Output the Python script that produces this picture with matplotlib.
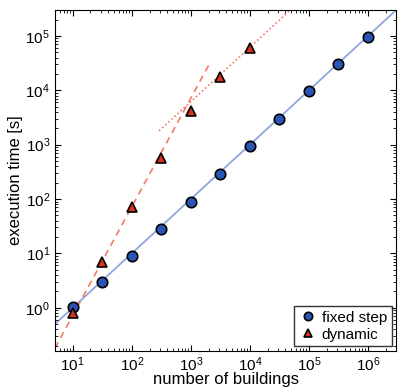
import numpy as np
import matplotlib
matplotlib.use("Agg")
import matplotlib.pyplot as plt

plt.rcParams["font.family"] = ["Liberation Sans", "DejaVu Sans"]

# number of buildings for each run
n_fixed = [10, 31.6, 100, 316, 1000, 3162, 10000, 31623, 100000, 316228, 1000000]
n_dynamic = [10, 31.6, 100, 316, 1000, 3162, 10000]

# execution time [s]
t_fixed = [1.05, 3.0, 9.0, 28, 90, 290, 950, 3000, 9600, 30000, 97000]
t_dynamic = [0.8, 7.0, 72, 580, 4100, 17500, 60000]

# power-law fits: t = c * n**p
fit_fixed = (0.1, 1.0)
fit_dyn_small = (0.0072, 2.0)
fit_dyn_large = (6.2, 1.0)

xlim = (5, 3e6)
ylim = (0.16, 3e5)

fig = plt.figure(figsize=(4.01, 3.87), dpi=100)
ax = fig.add_axes([0.137, 0.093, 0.851, 0.881])

n = np.logspace(np.log10(xlim[0]), np.log10(xlim[1]), 200)
ax.plot(n, fit_fixed[0] * n ** fit_fixed[1], color="#8fa6dc", lw=1.3, zorder=1)

n1 = np.logspace(np.log10(5), np.log10(2100), 100)
ax.plot(n1, fit_dyn_small[0] * n1 ** fit_dyn_small[1], color="#f47a6a",
        lw=1.2, ls=(0, (4, 3)), zorder=1)

n2 = np.logspace(np.log10(290), np.log10(1e5), 100)
ax.plot(n2, fit_dyn_large[0] * n2 ** fit_dyn_large[1], color="#f47a6a",
        lw=1.2, ls=(0, (1, 1.5)), zorder=1)

ax.plot(n_fixed, t_fixed, "o", ms=7.5, mfc="#2b55b5", mec="black", mew=1.2,
        label="fixed step", zorder=3)
ax.plot(n_dynamic, t_dynamic, "^", ms=7.5, mfc="#d8321a", mec="black", mew=1.2,
        label="dynamic", zorder=3)

ax.set_xscale("log")
ax.set_yscale("log")
ax.set_xlim(*xlim)
ax.set_ylim(*ylim)
ax.set_xticks([1e1, 1e2, 1e3, 1e4, 1e5, 1e6])
ax.set_yticks([1e0, 1e1, 1e2, 1e3, 1e4, 1e5])
ax.tick_params(which="both", direction="in", top=True, right=True,
               labelsize=11)
ax.tick_params(which="major", length=4)
ax.tick_params(which="minor", length=2)
ax.tick_params(axis="x", pad=3)

ax.set_xlabel("number of buildings", fontsize=12, labelpad=-1)
ax.set_ylabel("execution time [s]", fontsize=12, labelpad=2)

leg = ax.legend(loc="lower right", fontsize=11, fancybox=False,
                edgecolor="black", handletextpad=0.3, borderpad=0.3,
                labelspacing=0.2, handlelength=1.2, borderaxespad=0.3,
                markerscale=0.8)
leg.get_frame().set_linewidth(1.0)

fig.savefig("out.png", dpi=100)
